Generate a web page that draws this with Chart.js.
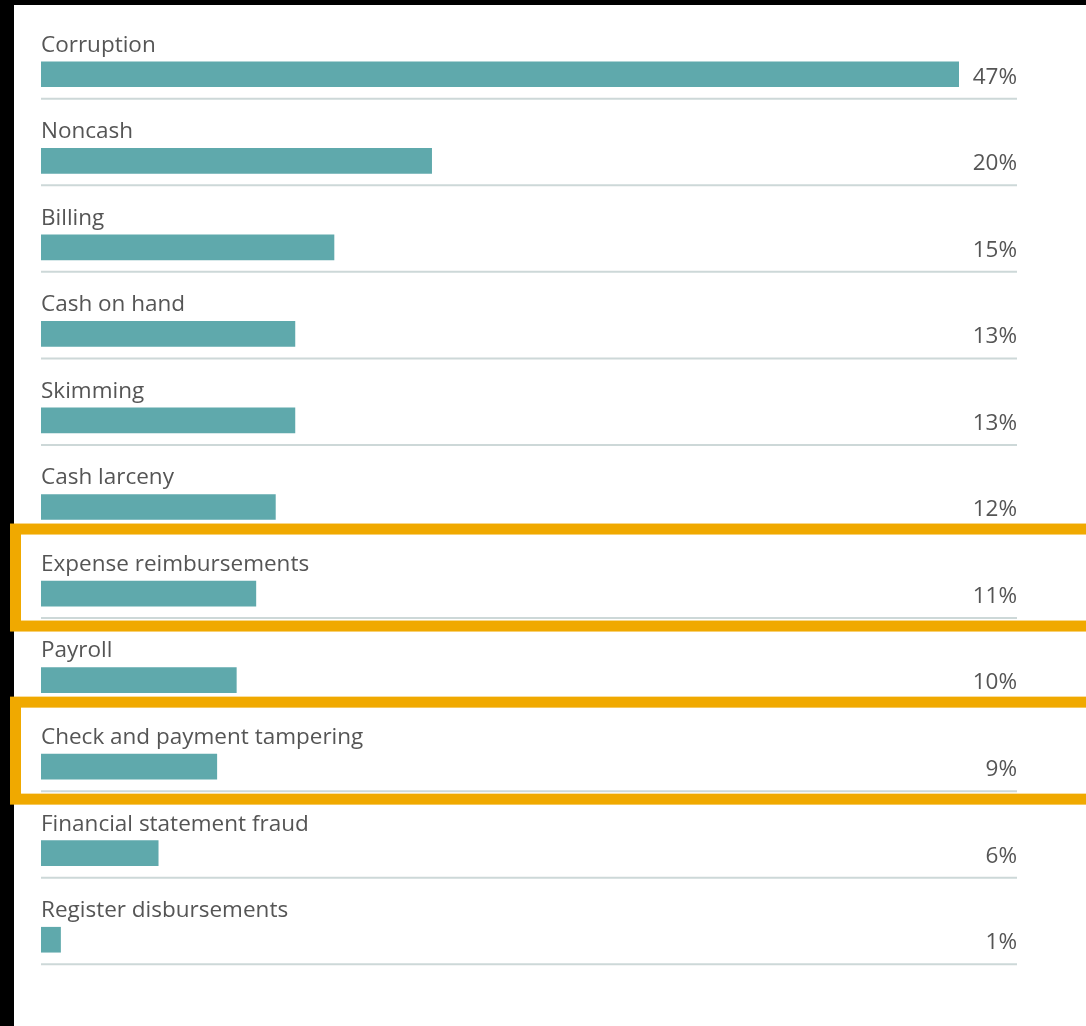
<!DOCTYPE html>
<html>
<head>
<meta charset="utf-8">
<script src="https://cdn.jsdelivr.net/npm/chart.js@4"></script>
<style>
  html, body { margin: 0; padding: 0; background: #fff; }
  #wrap { width: 1086px; height: 1026px; }
</style>
</head>
<body>
<div id="wrap"><canvas id="schemeChart"></canvas></div>
<script>
// Occupational fraud scheme types, % of cases
const schemes = [
  'Corruption', 'Noncash', 'Billing', 'Cash on hand', 'Skimming', 'Cash larceny',
  'Expense reimbursements', 'Payroll', 'Check and payment tampering',
  'Financial statement fraud', 'Register disbursements'
];
const shares = [47, 20, 15, 13, 13, 12, 11, 10, 9, 6, 1];
const highlighted = ['Expense reimbursements', 'Check and payment tampering'];

const TEXT = '#555555';
const FONT = '22.5px "Open Sans", Roboto, sans-serif';

// white page with the black scan edge on top and left
const pageFrame = {
  id: 'pageFrame',
  beforeDraw(chart) {
    const { ctx, width, height } = chart;
    ctx.save();
    ctx.fillStyle = '#fff';
    ctx.fillRect(0, 0, width, height);
    ctx.fillStyle = '#000';
    ctx.fillRect(0, 0, width, 5);
    ctx.fillRect(0, 0, 14, height);
    ctx.restore();
  }
};

// category name above each bar, value at right, thin rule under each row
const rowText = {
  id: 'rowText',
  afterDatasetsDraw(chart) {
    const { ctx } = chart;
    const meta = chart.getDatasetMeta(0);
    const x0 = chart.scales.x.getPixelForValue(0);
    ctx.save();
    ctx.font = FONT;
    meta.data.forEach((bar, i) => {
      const y = bar.y;
      ctx.strokeStyle = '#cdd8d8';
      ctx.lineWidth = 2;
      ctx.beginPath();
      ctx.moveTo(x0, y + 24.5);
      ctx.lineTo(1017, y + 24.5);
      ctx.stroke();

      ctx.fillStyle = TEXT;
      ctx.textBaseline = 'middle';
      ctx.textAlign = 'left';
      ctx.fillText(schemes[i], x0, y - 29);
      ctx.textAlign = 'right';
      ctx.fillText(shares[i] + '%', 1017, y + 3);
    });
    ctx.restore();
  }
};

// orange frames round the highlighted rows
const highlightBoxes = {
  id: 'highlightBoxes',
  afterDraw(chart) {
    const { ctx } = chart;
    const yScale = chart.scales.y;
    ctx.save();
    ctx.strokeStyle = '#f0a900';
    ctx.lineWidth = 11;
    highlighted.forEach(name => {
      const y = yScale.getPixelForValue(schemes.indexOf(name));
      ctx.strokeRect(15.5, y - 64.5, 1100, 97);
    });
    ctx.restore();
  }
};

new Chart(document.getElementById('schemeChart'), {
  type: 'bar',
  data: {
    labels: schemes,
    datasets: [{
      data: shares,
      backgroundColor: '#5fa9ac',
      barThickness: 25,
      borderWidth: 0
    }]
  },
  options: {
    indexAxis: 'y',
    responsive: true,
    maintainAspectRatio: false,
    animation: false,
    layout: { padding: { left: 41, right: 127, top: 31, bottom: 43 } },
    scales: {
      x: { min: 0, max: 47, display: false },
      y: { display: false }
    },
    plugins: { legend: { display: false }, tooltip: { enabled: false } }
  },
  plugins: [pageFrame, rowText, highlightBoxes]
});
</script>
</body>
</html>
